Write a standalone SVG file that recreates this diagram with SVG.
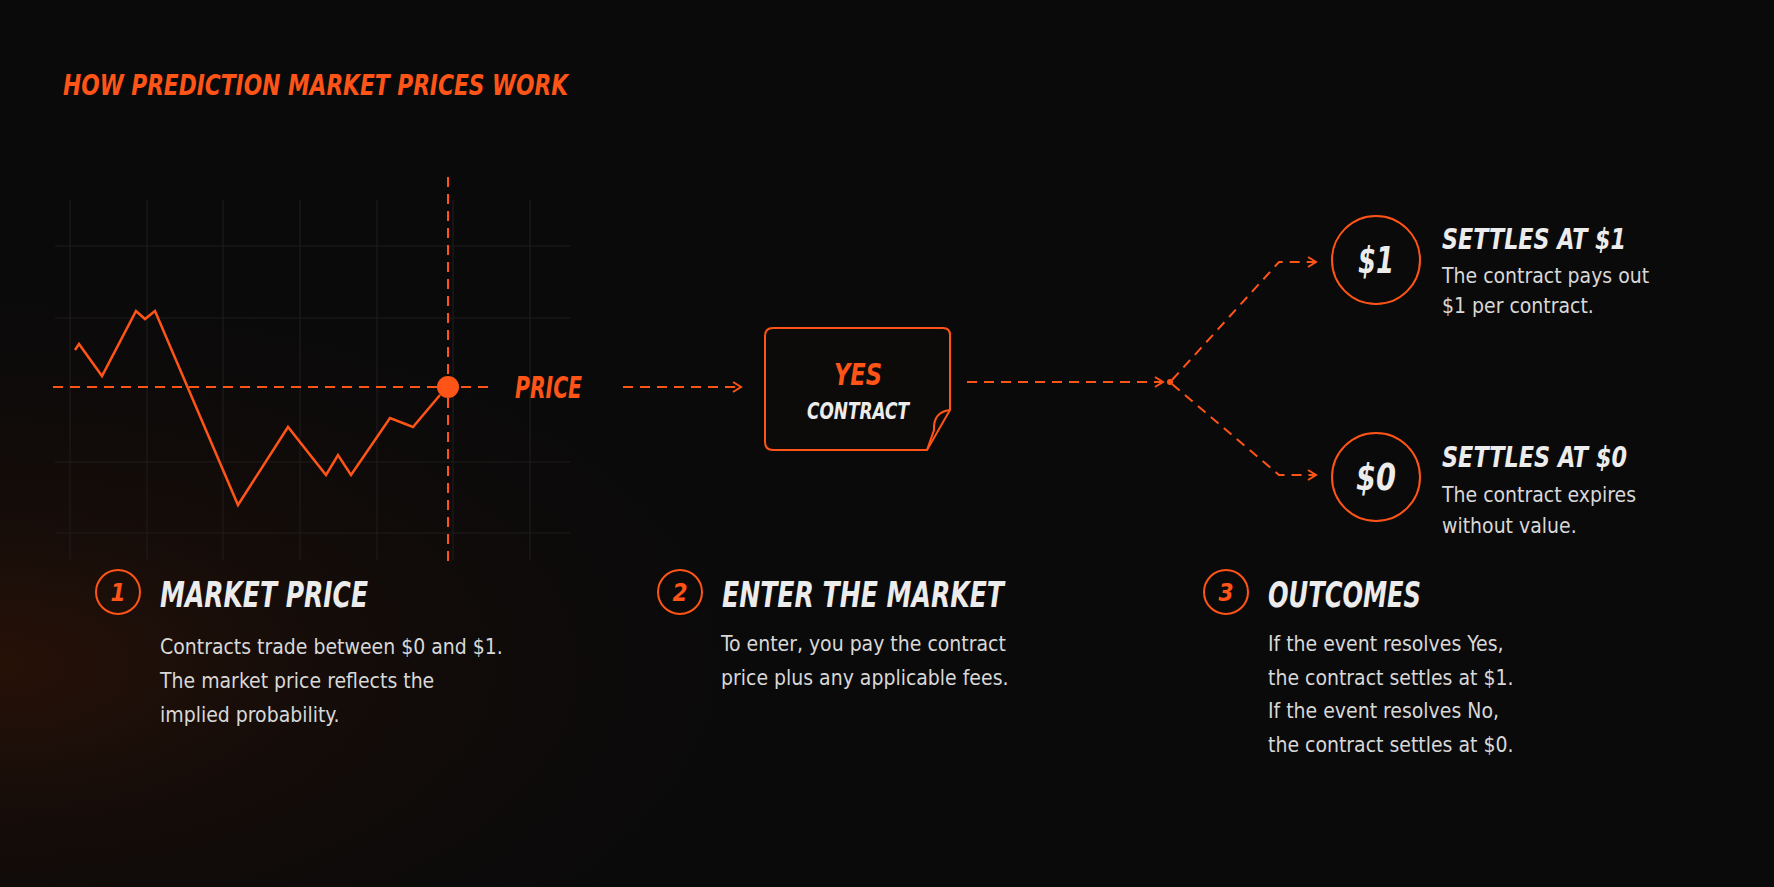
<svg xmlns="http://www.w3.org/2000/svg" width="1774" height="887" viewBox="0 0 1774 887">
<defs>
<radialGradient id="glow" cx="0" cy="0.75" r="0.45">
<stop offset="0" stop-color="#3a1606" stop-opacity="0.6"/>
<stop offset="1" stop-color="#0b0a0a" stop-opacity="0"/>
</radialGradient>
<marker id="chev" viewBox="0 0 12 12" refX="10" refY="6" markerWidth="12" markerHeight="12" markerUnits="userSpaceOnUse" orient="auto">
<path d="M2,1 L10,6 L2,11" fill="none" stroke="#ff5417" stroke-width="2"/>
</marker>
<style>
.o{fill:#ff5417}
.hd{font-family:"DejaVu Sans Condensed","DejaVu Sans",sans-serif;font-weight:bold;font-style:oblique}
.w{fill:#ececec}
.bd{font-family:"DejaVu Sans Condensed","DejaVu Sans",sans-serif;fill:#d8d8d8;font-size:21px}
.grid{stroke:#1f1c1b;stroke-width:1.2;fill:none}
.dash{stroke:#ff5417;stroke-width:2;stroke-dasharray:10 7;fill:none}
.ring{fill:none;stroke:#ff5417;stroke-width:2}
</style>
</defs>
<rect width="1774" height="887" fill="#0b0a0a"/>
<rect width="1774" height="887" fill="url(#glow)"/>
<text class="hd o" x="63" y="95" font-size="28" textLength="505" lengthAdjust="spacingAndGlyphs">HOW PREDICTION MARKET PRICES WORK</text>

<g id="chart">
<path class="grid" d="M70,200V560M147,200V560M223,200V560M300,200V560M377,200V560M453,200V560M530,200V560M55,246H570M55,318H570M55,462H570M55,533H570"/>
<path class="dash" d="M53,387H490"/>
<path class="dash" d="M448,177V562"/>
<polyline points="75,350 79,344 102,376 136,311 145,319 155,311 238,505 288,427 326,475 338,455 351,475 390,418 413,427 440,395" fill="none" stroke="#ff5417" stroke-width="2.5" stroke-linejoin="miter"/>
<circle cx="448" cy="387" r="11" class="o"/>
<text class="hd o" x="515" y="398" font-size="30" textLength="67" lengthAdjust="spacingAndGlyphs">PRICE</text>
</g>

<g id="contract">
<path d="M773,328H943Q950,328 950,335V410L927,450H773Q765,450 765,442V336Q765,328 773,328Z" fill="#0d0b0a" stroke="#ff5417" stroke-width="2"/>
<path d="M950,410Q933,412 934,430L927,450" fill="none" stroke="#ff5417" stroke-width="2"/>
<text class="hd o" x="858" y="385" font-size="30" text-anchor="middle" textLength="48" lengthAdjust="spacingAndGlyphs">YES</text>
<text class="hd w" x="858" y="419" font-size="23" text-anchor="middle" textLength="102" lengthAdjust="spacingAndGlyphs">CONTRACT</text>
</g>

<g id="connectors">
<path class="dash" d="M623,387H741" marker-end="url(#chev)"/>
<path class="dash" d="M967,382H1163" marker-end="url(#chev)"/>
<circle cx="1170" cy="382" r="3" class="o"/>
<path class="dash" d="M1172,380L1279,262H1316" marker-end="url(#chev)"/>
<path class="dash" d="M1172,384L1279,475H1316" marker-end="url(#chev)"/>
</g>

<g id="out1">
<circle cx="1376" cy="260" r="44" class="ring"/>
<text class="hd w" x="1376" y="273" font-size="38" text-anchor="middle" textLength="36" lengthAdjust="spacingAndGlyphs">$1</text>
<text class="hd w" x="1442" y="249" font-size="28" textLength="184" lengthAdjust="spacingAndGlyphs">SETTLES AT $1</text>
<text class="bd" x="1442" y="283">The contract pays out</text>
<text class="bd" x="1442" y="313">$1 per contract.</text>
</g>
<g id="out0">
<circle cx="1376" cy="477" r="44" class="ring"/>
<text class="hd w" x="1376" y="490" font-size="38" text-anchor="middle" textLength="40" lengthAdjust="spacingAndGlyphs">$0</text>
<text class="hd w" x="1442" y="467" font-size="28" textLength="185" lengthAdjust="spacingAndGlyphs">SETTLES AT $0</text>
<text class="bd" x="1442" y="502">The contract expires</text>
<text class="bd" x="1442" y="533">without value.</text>
</g>

<g id="step1">
<circle cx="118" cy="592" r="22" class="ring"/>
<text class="hd o" x="118" y="601" font-size="24" text-anchor="middle" font-weight="normal">1</text>
<text class="hd w" x="160" y="607" font-size="36" textLength="208" lengthAdjust="spacingAndGlyphs">MARKET PRICE</text>
<text class="bd" x="160" y="654">Contracts trade between $0 and $1.</text>
<text class="bd" x="160" y="688">The market price reflects the</text>
<text class="bd" x="160" y="722">implied probability.</text>
</g>
<g id="step2">
<circle cx="680" cy="592" r="22" class="ring"/>
<text class="hd o" x="680" y="601" font-size="24" text-anchor="middle" font-weight="normal">2</text>
<text class="hd w" x="722" y="607" font-size="36" textLength="282" lengthAdjust="spacingAndGlyphs">ENTER THE MARKET</text>
<text class="bd" x="721" y="651">To enter, you pay the contract</text>
<text class="bd" x="721" y="685">price plus any applicable fees.</text>
</g>
<g id="step3">
<circle cx="1226" cy="592" r="22" class="ring"/>
<text class="hd o" x="1226" y="601" font-size="24" text-anchor="middle" font-weight="normal">3</text>
<text class="hd w" x="1268" y="607" font-size="36" textLength="153" lengthAdjust="spacingAndGlyphs">OUTCOMES</text>
<text class="bd" x="1268" y="651">If the event resolves Yes,</text>
<text class="bd" x="1268" y="685">the contract settles at $1.</text>
<text class="bd" x="1268" y="718">If the event resolves No,</text>
<text class="bd" x="1268" y="752">the contract settles at $0.</text>
</g>
</svg>
